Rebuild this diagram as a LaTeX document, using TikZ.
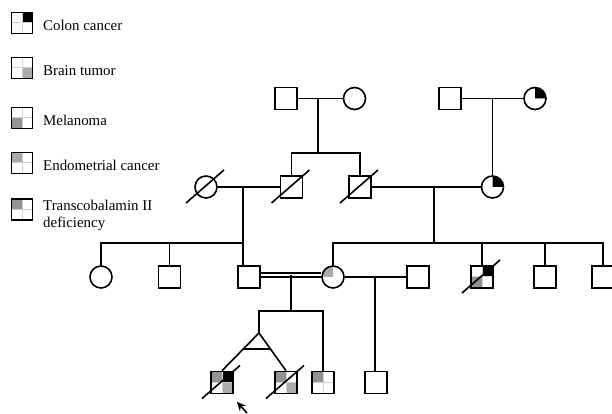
\documentclass[tikz,border=0pt]{standalone}
\usepackage{fontspec}
\setmainfont{Liberation Serif}
\usetikzlibrary{calc,backgrounds,arrows.meta}
\definecolor{lgris}{HTML}{AAAAAA}
\definecolor{dgris}{HTML}{929292}
\definecolor{trait}{HTML}{D0D0D0}

\tikzset{
  male/.style={rectangle, draw=black, line width=1.6pt, minimum size=22pt, inner sep=0pt},
  female/.style={circle, draw=black, line width=1.6pt, minimum size=22pt, inner sep=0pt},
  key/.style={rectangle, draw=black, line width=1.8pt, minimum size=21pt, inner sep=0pt},
  legtext/.style={anchor=west, font=\fontsize{14.9}{17}\selectfont, align=left, inner sep=0pt},
  link/.style={line width=1.6pt}
}

% quadrant of a square / of a circle
\newcommand{\qsq}[3]{\fill[#3] (#1.center) rectangle (#1.#2);}
\newcommand{\qci}[3]{\fill[#3] (#1.center) -- ++(#2:11pt) arc[start angle=#2, delta angle=-90, radius=11pt] -- cycle;}
\newcommand{\qcr}[1]{\draw[trait, line width=1pt] (#1.north) -- (#1.south) (#1.west) -- (#1.east);}
\newcommand{\dcd}[1]{\draw[link] ($(#1.center)+(-20,-16)$) -- ($(#1.center)+(18,17)$);}

\begin{document}
\begin{tikzpicture}[x=1pt,y=1pt]
  \useasboundingbox (0,0) rectangle (612,414);

  % legend
  \node[key] at (22,391) (kcolon) {};
  \node[legtext] at (43,389) (tcolon) {Colon cancer};
  \node[key] at (22,346) (kbrain) {};
  \node[legtext] at (43,343) (tbrain) {Brain tumor};
  \node[key] at (22,296) (kmela) {};
  \node[legtext] at (43,294) (tmela) {Melanoma};
  \node[key] at (22,251) (kendo) {};
  \node[legtext] at (43,249) (tendo) {Endometrial cancer};
  \node[key] at (22,204.5) (ktcn) {};
  \node[legtext] at (43,199) (ttcn) {Transcobalamin II\\deficiency};

  % generation I
  \node[male] at (286,315.5) (i1) {};
  \node[female] at (354.5,315.5) (i2) {};
  \node[male] at (450,315.5) (i3) {};
  \node[female] at (535,315.5) (i4) {};

  % generation II
  \node[female] at (206,227) (ii1) {};
  \node[male] at (291.5,227) (ii2) {};
  \node[male] at (360,227) (ii3) {};
  \node[female] at (492.5,227) (ii4) {};

  % generation III
  \node[female] at (101,137) (iii1) {};
  \node[male] at (169.6,137) (iii2) {};
  \node[male] at (249,137) (iii3) {};
  \node[female] at (333,137) (iii4) {};
  \node[male] at (418,137) (iii5) {};
  \node[male] at (482,137) (iii6) {};
  \node[male] at (545,137) (iii7) {};
  \node[male] at (603,137) (iii8) {};

  % generation IV
  \node[male] at (222,31.5) (iv1) {};
  \node[male] at (286,31.5) (iv2) {};
  \node[male] at (323,31.5) (iv3) {};
  \node[male] at (376,31.5) (iv4) {};

  \begin{scope}[on background layer]
    \qsq{kcolon}{north east}{black}
    \qsq{kbrain}{south east}{lgris}
    \qsq{kmela}{south west}{dgris}
    \qsq{kendo}{north west}{lgris}
    \qsq{ktcn}{north west}{dgris}
    \foreach \k in {kcolon,kbrain,kmela,kendo,ktcn} {\qcr{\k}}

    \qci{i4}{90}{black}
    \qci{ii4}{90}{black}
    \qci{iii4}{180}{lgris}

    \qsq{iii6}{north east}{black}
    \qsq{iii6}{south west}{dgris}
    \qsq{iv1}{north west}{dgris}
    \qsq{iv1}{north east}{black}
    \qsq{iv1}{south east}{lgris}
    \qsq{iv2}{north west}{dgris}
    \qsq{iv2}{south east}{lgris}
    \qsq{iv3}{north west}{dgris}
    \foreach \k in {iii6,iv1,iv2,iv3} {\qcr{\k}}
  \end{scope}

  % couples and sibships
  \coordinate (m1) at (318,315.5);
  \coordinate (s1) at (318,261);
  \draw[link] (i1) -- (i2);
  \draw[link] (m1) -- (s1);
  \draw[link] (ii2.north) -- (ii2.north |- s1) -- (ii3.north |- s1) -- (ii3.north);

  \coordinate (m2) at (492.5,315.5);
  \draw[link] (i3) -- (i4);
  \draw[link] (m2) -- (ii4.north);

  \coordinate (m3) at (243,227);
  \coordinate (s2) at (243,171);
  \draw[link] (ii1) -- (ii2);
  \draw[link] (m3) -- (s2 |- iii3.north);
  \draw[link] (iii1.north) -- (iii1.north |- s2) -- (s2);
  \draw[link] (iii2.north) -- (iii2.north |- s2);

  \coordinate (m4) at (434,227);
  \coordinate (s3) at (434,171);
  \draw[link] (ii3) -- (ii4);
  \draw[link] (m4) -- (s3);
  \draw[link] (iii4.north) -- (iii4.north |- s3) -- (iii8.north |- s3) -- (iii8.north);
  \foreach \k in {iii6,iii7} {\draw[link] (\k.north) -- (\k.north |- s3);}

  \draw[line width=1.5pt, double, double distance=2.6pt] ([yshift=2pt]iii3.east) -- ([yshift=2pt]iii4.west);
  \coordinate (m5) at (291,139);
  \coordinate (s4) at (291,103);
  \coordinate (apex) at (259,81);
  \draw[link] (m5) -- (s4);
  \draw[link] (apex) -- (apex |- s4) -- (iv3.north |- s4) -- (iv3.north);
  \draw[link] (iv1.north) -- (apex) -- (iv2.north);
  \draw[link] ($(apex)!0.42!(iv1.north)$) -- ($(apex)!0.42!(iv2.north)$);

  \coordinate (m6) at (375,137);
  \draw[link] (iii4) -- (iii5);
  \draw[link] (m6) -- (m6 |- iv4.north);

  % deceased
  \foreach \k in {ii1,ii2,ii3,iii6,iv1,iv2} {\dcd{\k}}

  % proband
  \coordinate (tail) at (247,1);
  \draw[link, -{Stealth[length=9pt,width=8pt]}] (tail) -- ([shift={(3,-7.5)}]iv1.south east);
\end{tikzpicture}
\end{document}
